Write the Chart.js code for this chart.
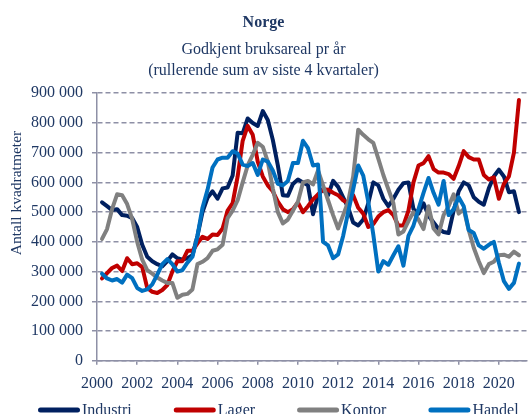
<!DOCTYPE html>
<html><head><meta charset="utf-8">
<script src="https://cdn.jsdelivr.net/npm/chart.js@4/dist/chart.umd.min.js"></script>
<style>html,body{margin:0;padding:0;background:#fff;overflow:hidden}</style>
</head><body>
<canvas id="c" width="531" height="414"></canvas>
<script>
// Quarterly data, 2000K1 .. 2020K4 (rolling 4-quarter sums, m²)
const firstYear = 2000;
const seriesNames = ['Industri', 'Lager', 'Kontor', 'Handel'];
const industri = [533000,520000,507000,510000,490000,488000,480000,450000,390000,350000,335000,325000,318000,335000,358000,345000,340000,345000,355000,420000,500000,548000,570000,545000,580000,583000,623000,767000,765000,815000,800000,790000,840000,810000,743000,657000,557000,555000,595000,610000,600000,590000,493000,557000,577000,557000,605000,585000,550000,515000,465000,455000,475000,530000,600000,590000,545000,520000,545000,575000,597000,600000,510000,495000,530000,488000,465000,443000,433000,430000,505000,570000,600000,590000,550000,535000,525000,580000,620000,643000,620000,567000,570000,500000];
const lager = [277000,295000,312000,320000,302000,345000,325000,328000,315000,245000,232000,228000,238000,255000,300000,335000,335000,370000,370000,395000,417000,410000,425000,423000,445000,505000,530000,620000,740000,790000,760000,670000,620000,590000,570000,535000,510000,500000,510000,533000,500000,520000,543000,560000,577000,575000,565000,557000,540000,530000,557000,515000,495000,450000,460000,485000,500000,507000,490000,455000,455000,505000,600000,657000,665000,688000,645000,633000,633000,628000,612000,655000,705000,685000,677000,677000,625000,610000,617000,545000,595000,620000,700000,877000];
const kontor = [410000,443000,510000,560000,557000,527000,477000,400000,340000,305000,293000,280000,270000,262000,262000,212000,222000,225000,240000,325000,333000,345000,370000,375000,390000,480000,505000,540000,600000,657000,693000,733000,720000,670000,580000,500000,462000,475000,505000,535000,600000,605000,593000,640000,590000,540000,490000,445000,490000,535000,620000,777000,760000,745000,733000,680000,625000,577000,530000,425000,435000,470000,500000,475000,443000,520000,445000,425000,490000,520000,560000,495000,510000,440000,380000,335000,295000,325000,333000,355000,357000,350000,367000,355000];
const handel = [293000,277000,270000,275000,263000,290000,278000,245000,235000,240000,257000,290000,325000,342000,325000,300000,305000,330000,350000,420000,515000,575000,650000,677000,683000,683000,705000,697000,660000,655000,665000,625000,677000,670000,640000,595000,590000,605000,665000,665000,740000,715000,657000,660000,400000,388000,345000,358000,420000,500000,577000,657000,623000,535000,425000,300000,335000,323000,355000,385000,320000,420000,455000,510000,565000,615000,565000,525000,605000,490000,510000,550000,520000,440000,430000,388000,377000,390000,400000,330000,268000,242000,262000,327000];
const xTickYears = [2000, 2002, 2004, 2006, 2008, 2010, 2012, 2014, 2016, 2018, 2020];
const yTickValues = [0, 100000, 200000, 300000, 400000, 500000, 600000, 700000, 800000, 900000];

const navy = '#1F3864';
const gridGray = '#8E90A6';
const serif = "'Liberation Serif', 'Times New Roman', serif";
const colors = ['#002060', '#C00000', '#808080', '#0070C0'];
const allSeries = [industri, lager, kontor, handel];

// x position of quarter i: end of quarter, in decimal years
const qx = i => firstYear + (i + 1) / 4;

const fmt = v => String(v).replace(/\B(?=(\d{3})+(?!\d))/g, ' ');

const extras = {
  id: 'extras',
  afterDraw(chart) {
    const ctx = chart.ctx;
    const ya = chart.scales.y;
    ctx.save();
    // y-axis title
    ctx.fillStyle = navy;
    ctx.font = '15.5px ' + serif;
    ctx.textAlign = 'center';
    ctx.textBaseline = 'middle';
    ctx.translate(17, (ya.top + ya.bottom) / 2 - 34);
    ctx.rotate(-Math.PI / 2);
    ctx.fillText('Antall kvadratmeter', 0, 0);
    ctx.restore();
    // legend
    ctx.save();
    ctx.font = '16px ' + serif;
    ctx.textBaseline = 'alphabetic';
    ctx.textAlign = 'left';
    let x = 38;
    const yLine = 410, yText = 415;
    chart.data.datasets.forEach(ds => {
      ctx.strokeStyle = ds.borderColor;
      ctx.lineWidth = 5;
      ctx.lineCap = 'round';
      ctx.beginPath();
      ctx.moveTo(x + 2.5, yLine);
      ctx.lineTo(x + 39.5, yLine);
      ctx.stroke();
      ctx.fillStyle = navy;
      ctx.fillText(ds.label, x + 44, yText);
      x += 44 + ctx.measureText(ds.label).width + 42;
    });
    ctx.restore();
  }
};

new Chart(document.getElementById('c'), {
  type: 'line',
  data: {
    datasets: seriesNames.map((name, k) => ({
      label: name,
      data: allSeries[k].map((v, i) => ({ x: qx(i), y: v })),
      borderColor: colors[k],
      backgroundColor: colors[k],
      order: 3 - k
    }))
  },
  options: {
    responsive: false,
    animation: false,
    devicePixelRatio: 1,
    layout: { padding: { left: 0, right: 4, top: 0, bottom: 12 } },
    elements: {
      point: { radius: 0 },
      line: { borderWidth: 4, tension: 0, borderJoinStyle: 'round', borderCapStyle: 'round' }
    },
    plugins: {
      legend: { display: false },
      tooltip: { enabled: false },
      title: {
        display: true, text: 'Norge', color: navy,
        font: { family: serif, size: 16, weight: 'bold', lineHeight: 1.2 },
        padding: { top: 13, bottom: 7 }
      },
      subtitle: {
        display: true,
        text: ['Godkjent bruksareal pr år', '(rullerende sum av siste 4 kvartaler)'],
        color: navy,
        font: { family: serif, size: 16, lineHeight: 1.3125 },
        padding: { top: 0, bottom: 12 }
      }
    },
    scales: {
      x: {
        type: 'linear',
        min: 2000, max: 2021.4,
        afterBuildTicks: s => { s.ticks = xTickYears.map(v => ({ value: v })); },
        ticks: { color: navy, font: { family: serif, size: 16 }, padding: 9, maxRotation: 0, autoSkip: false, callback: v => String(v) },
        grid: { display: true, drawOnChartArea: false, drawTicks: true, tickLength: 4, color: gridGray, lineWidth: 1.5 },
        border: { display: true, color: gridGray, width: 1.5 }
      },
      y: {
        min: 0, max: 900000,
        afterBuildTicks: s => { s.ticks = yTickValues.map(v => ({ value: v })); },
        afterFit: s => { s.width = 97; },
        ticks: { color: navy, font: { family: serif, size: 16 }, padding: 9, callback: v => fmt(v) },
        grid: { color: gridGray, lineWidth: 1.5, tickLength: 5, tickBorderDash: [], tickColor: gridGray },
        border: { display: true, color: gridGray, width: 1.5, dash: [5, 3] }
      }
    }
  },
  plugins: [extras]
});
</script>
</body></html>
